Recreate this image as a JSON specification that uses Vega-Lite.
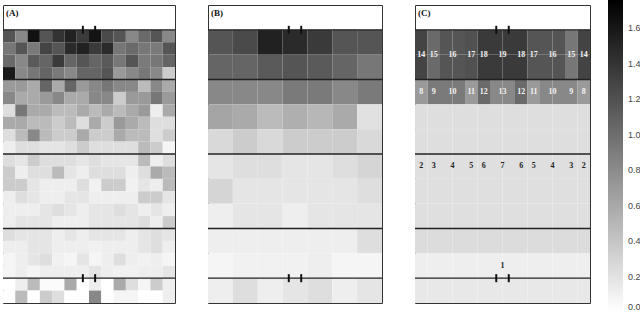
{
 "$schema": "https://vega.github.io/schema/vega-lite/v6.json",
 "padding": {"left": 1, "top": 0, "right": 0, "bottom": 0},
 "background": "white",
 "config": {"view": {"stroke": "#333333", "strokeWidth": 1}},
 "spacing": 29,
 "resolve": {"scale": {"color": "shared"}},
 "datasets": {
  "A": [
   {"r":0,"c":0,"v":1.17},{"r":0,"c":1,"v":0.82},{"r":0,"c":2,"v":1.64},{"r":0,"c":3,"v":1.17},{"r":0,"c":4,"v":1.41},{"r":0,"c":5,"v":1.53},{"r":0,"c":6,"v":1.36},{"r":0,"c":7,"v":1.62},{"r":0,"c":8,"v":1.25},{"r":0,"c":9,"v":1.17},{"r":0,"c":10,"v":0.82},{"r":0,"c":11,"v":1.03},{"r":0,"c":12,"v":1.17},{"r":0,"c":13,"v":0.82},
   {"r":1,"c":0,"v":0.94},{"r":1,"c":1,"v":1.17},{"r":1,"c":2,"v":0.92},{"r":1,"c":3,"v":1.29},{"r":1,"c":4,"v":1.17},{"r":1,"c":5,"v":1.47},{"r":1,"c":6,"v":1.53},{"r":1,"c":7,"v":1.36},{"r":1,"c":8,"v":1.47},{"r":1,"c":9,"v":0.94},{"r":1,"c":10,"v":1.03},{"r":1,"c":11,"v":0.94},{"r":1,"c":12,"v":0.92},{"r":1,"c":13,"v":1.17},
   {"r":2,"c":0,"v":1.03},{"r":2,"c":1,"v":0.82},{"r":2,"c":2,"v":1.14},{"r":2,"c":3,"v":1.06},{"r":2,"c":4,"v":1.36},{"r":2,"c":5,"v":1.06},{"r":2,"c":6,"v":1.17},{"r":2,"c":7,"v":1.06},{"r":2,"c":8,"v":1.14},{"r":2,"c":9,"v":0.94},{"r":2,"c":10,"v":1.17},{"r":2,"c":11,"v":0.92},{"r":2,"c":12,"v":0.94},{"r":2,"c":13,"v":1.06},
   {"r":3,"c":0,"v":1.58},{"r":3,"c":1,"v":0.82},{"r":3,"c":2,"v":0.94},{"r":3,"c":3,"v":1.06},{"r":3,"c":4,"v":0.92},{"r":3,"c":5,"v":0.82},{"r":3,"c":6,"v":1.06},{"r":3,"c":7,"v":1.06},{"r":3,"c":8,"v":1.17},{"r":3,"c":9,"v":0.70},{"r":3,"c":10,"v":0.82},{"r":3,"c":11,"v":0.94},{"r":3,"c":12,"v":0.82},{"r":3,"c":13,"v":0.35},
   {"r":4,"c":0,"v":0.70},{"r":4,"c":1,"v":0.70},{"r":4,"c":2,"v":0.59},{"r":4,"c":3,"v":1.06},{"r":4,"c":4,"v":0.59},{"r":4,"c":5,"v":1.06},{"r":4,"c":6,"v":0.70},{"r":4,"c":7,"v":0.82},{"r":4,"c":8,"v":0.94},{"r":4,"c":9,"v":0.82},{"r":4,"c":10,"v":0.82},{"r":4,"c":11,"v":0.47},{"r":4,"c":12,"v":0.82},{"r":4,"c":13,"v":0.59},
   {"r":5,"c":0,"v":0.82},{"r":5,"c":1,"v":0.59},{"r":5,"c":2,"v":0.59},{"r":5,"c":3,"v":0.70},{"r":5,"c":4,"v":0.82},{"r":5,"c":5,"v":0.59},{"r":5,"c":6,"v":0.59},{"r":5,"c":7,"v":0.82},{"r":5,"c":8,"v":0.82},{"r":5,"c":9,"v":0.35},{"r":5,"c":10,"v":0.70},{"r":5,"c":11,"v":0.70},{"r":5,"c":12,"v":0.94},{"r":5,"c":13,"v":0.70},
   {"r":6,"c":0,"v":0.23},{"r":6,"c":1,"v":0.94},{"r":6,"c":2,"v":0.59},{"r":6,"c":3,"v":0.59},{"r":6,"c":4,"v":0.47},{"r":6,"c":5,"v":0.47},{"r":6,"c":6,"v":0.59},{"r":6,"c":7,"v":0.47},{"r":6,"c":8,"v":0.59},{"r":6,"c":9,"v":0.47},{"r":6,"c":10,"v":0.59},{"r":6,"c":11,"v":0.70},{"r":6,"c":12,"v":0.12},{"r":6,"c":13,"v":0.59},
   {"r":7,"c":0,"v":0.59},{"r":7,"c":1,"v":0.59},{"r":7,"c":2,"v":0.47},{"r":7,"c":3,"v":0.47},{"r":7,"c":4,"v":0.35},{"r":7,"c":5,"v":0.47},{"r":7,"c":6,"v":0.23},{"r":7,"c":7,"v":0.59},{"r":7,"c":8,"v":0.35},{"r":7,"c":9,"v":0.70},{"r":7,"c":10,"v":0.59},{"r":7,"c":11,"v":0.47},{"r":7,"c":12,"v":0.23},{"r":7,"c":13,"v":0.23},
   {"r":8,"c":0,"v":0.23},{"r":8,"c":1,"v":0.47},{"r":8,"c":2,"v":0.82},{"r":8,"c":3,"v":0.47},{"r":8,"c":4,"v":0.35},{"r":8,"c":5,"v":0.35},{"r":8,"c":6,"v":0.59},{"r":8,"c":7,"v":0.35},{"r":8,"c":8,"v":0.35},{"r":8,"c":9,"v":0.59},{"r":8,"c":10,"v":0.47},{"r":8,"c":11,"v":0.47},{"r":8,"c":12,"v":0.23},{"r":8,"c":13,"v":0.35},
   {"r":9,"c":0,"v":0.12},{"r":9,"c":1,"v":0.23},{"r":9,"c":2,"v":0.23},{"r":9,"c":3,"v":0.18},{"r":9,"c":4,"v":0.18},{"r":9,"c":5,"v":0.23},{"r":9,"c":6,"v":0.35},{"r":9,"c":7,"v":0.23},{"r":9,"c":8,"v":0.23},{"r":9,"c":9,"v":0.23},{"r":9,"c":10,"v":0.23},{"r":9,"c":11,"v":0.47},{"r":9,"c":12,"v":0.35},{"r":9,"c":13,"v":0.07},
   {"r":10,"c":0,"v":0.23},{"r":10,"c":1,"v":0.18},{"r":10,"c":2,"v":0.35},{"r":10,"c":3,"v":0.23},{"r":10,"c":4,"v":0.23},{"r":10,"c":5,"v":0.23},{"r":10,"c":6,"v":0.18},{"r":10,"c":7,"v":0.23},{"r":10,"c":8,"v":0.18},{"r":10,"c":9,"v":0.18},{"r":10,"c":10,"v":0.18},{"r":10,"c":11,"v":0.47},{"r":10,"c":12,"v":0.12},{"r":10,"c":13,"v":0.23},
   {"r":11,"c":0,"v":0.35},{"r":11,"c":1,"v":0.12},{"r":11,"c":2,"v":0.23},{"r":11,"c":3,"v":0.23},{"r":11,"c":4,"v":0.47},{"r":11,"c":5,"v":0.18},{"r":11,"c":6,"v":0.12},{"r":11,"c":7,"v":0.23},{"r":11,"c":8,"v":0.23},{"r":11,"c":9,"v":0.23},{"r":11,"c":10,"v":0.12},{"r":11,"c":11,"v":0.23},{"r":11,"c":12,"v":0.59},{"r":11,"c":13,"v":0.47},
   {"r":12,"c":0,"v":0.35},{"r":12,"c":1,"v":0.35},{"r":12,"c":2,"v":0.18},{"r":12,"c":3,"v":0.12},{"r":12,"c":4,"v":0.12},{"r":12,"c":5,"v":0.12},{"r":12,"c":6,"v":0.23},{"r":12,"c":7,"v":0.10},{"r":12,"c":8,"v":0.35},{"r":12,"c":9,"v":0.35},{"r":12,"c":10,"v":0.10},{"r":12,"c":11,"v":0.18},{"r":12,"c":12,"v":0.12},{"r":12,"c":13,"v":0.47},
   {"r":13,"c":0,"v":0.12},{"r":13,"c":1,"v":0.23},{"r":13,"c":2,"v":0.18},{"r":13,"c":3,"v":0.12},{"r":13,"c":4,"v":0.12},{"r":13,"c":5,"v":0.18},{"r":13,"c":6,"v":0.18},{"r":13,"c":7,"v":0.12},{"r":13,"c":8,"v":0.12},{"r":13,"c":9,"v":0.12},{"r":13,"c":10,"v":0.12},{"r":13,"c":11,"v":0.35},{"r":13,"c":12,"v":0.35},{"r":13,"c":13,"v":0.18},
   {"r":14,"c":0,"v":0.12},{"r":14,"c":1,"v":0.12},{"r":14,"c":2,"v":0.12},{"r":14,"c":3,"v":0.18},{"r":14,"c":4,"v":0.23},{"r":14,"c":5,"v":0.18},{"r":14,"c":6,"v":0.12},{"r":14,"c":7,"v":0.18},{"r":14,"c":8,"v":0.18},{"r":14,"c":9,"v":0.23},{"r":14,"c":10,"v":0.18},{"r":14,"c":11,"v":0.12},{"r":14,"c":12,"v":0.18},{"r":14,"c":13,"v":0.12},
   {"r":15,"c":0,"v":0.12},{"r":15,"c":1,"v":0.18},{"r":15,"c":2,"v":0.18},{"r":15,"c":3,"v":0.18},{"r":15,"c":4,"v":0.12},{"r":15,"c":5,"v":0.12},{"r":15,"c":6,"v":0.12},{"r":15,"c":7,"v":0.18},{"r":15,"c":8,"v":0.18},{"r":15,"c":9,"v":0.18},{"r":15,"c":10,"v":0.18},{"r":15,"c":11,"v":0.23},{"r":15,"c":12,"v":0.12},{"r":15,"c":13,"v":0.35},
   {"r":16,"c":0,"v":0.23},{"r":16,"c":1,"v":0.18},{"r":16,"c":2,"v":0.18},{"r":16,"c":3,"v":0.18},{"r":16,"c":4,"v":0.12},{"r":16,"c":5,"v":0.18},{"r":16,"c":6,"v":0.12},{"r":16,"c":7,"v":0.18},{"r":16,"c":8,"v":0.18},{"r":16,"c":9,"v":0.18},{"r":16,"c":10,"v":0.12},{"r":16,"c":11,"v":0.18},{"r":16,"c":12,"v":0.23},{"r":16,"c":13,"v":0.18},
   {"r":17,"c":0,"v":0.12},{"r":17,"c":1,"v":0.12},{"r":17,"c":2,"v":0.18},{"r":17,"c":3,"v":0.18},{"r":17,"c":4,"v":0.12},{"r":17,"c":5,"v":0.12},{"r":17,"c":6,"v":0.12},{"r":17,"c":7,"v":0.10},{"r":17,"c":8,"v":0.12},{"r":17,"c":9,"v":0.12},{"r":17,"c":10,"v":0.12},{"r":17,"c":11,"v":0.18},{"r":17,"c":12,"v":0.23},{"r":17,"c":13,"v":0.12},
   {"r":18,"c":0,"v":0.07},{"r":18,"c":1,"v":0.12},{"r":18,"c":2,"v":0.18},{"r":18,"c":3,"v":0.23},{"r":18,"c":4,"v":0.10},{"r":18,"c":5,"v":0.07},{"r":18,"c":6,"v":0.18},{"r":18,"c":7,"v":0.07},{"r":18,"c":8,"v":0.12},{"r":18,"c":9,"v":0.23},{"r":18,"c":10,"v":0.12},{"r":18,"c":11,"v":0.10},{"r":18,"c":12,"v":0.12},{"r":18,"c":13,"v":0.07},
   {"r":19,"c":0,"v":0.07},{"r":19,"c":1,"v":0.12},{"r":19,"c":2,"v":0.07},{"r":19,"c":3,"v":0.12},{"r":19,"c":4,"v":0.12},{"r":19,"c":5,"v":0.12},{"r":19,"c":6,"v":0.12},{"r":19,"c":7,"v":0.18},{"r":19,"c":8,"v":0.12},{"r":19,"c":9,"v":0.10},{"r":19,"c":10,"v":0.10},{"r":19,"c":11,"v":0.12},{"r":19,"c":12,"v":0.12},{"r":19,"c":13,"v":0.18},
   {"r":20,"c":0,"v":0.0},{"r":20,"c":1,"v":0.12},{"r":20,"c":2,"v":0.47},{"r":20,"c":3,"v":0.03},{"r":20,"c":4,"v":0.03},{"r":20,"c":5,"v":0.59},{"r":20,"c":6,"v":0.0},{"r":20,"c":7,"v":0.12},{"r":20,"c":8,"v":0.0},{"r":20,"c":9,"v":0.59},{"r":20,"c":10,"v":0.23},{"r":20,"c":11,"v":0.07},{"r":20,"c":12,"v":0.35},{"r":20,"c":13,"v":0.12},
   {"r":21,"c":0,"v":0.0},{"r":21,"c":1,"v":0.47},{"r":21,"c":2,"v":0.0},{"r":21,"c":3,"v":0.35},{"r":21,"c":4,"v":0.23},{"r":21,"c":5,"v":0.0},{"r":21,"c":6,"v":0.0},{"r":21,"c":7,"v":0.82},{"r":21,"c":8,"v":0.0},{"r":21,"c":9,"v":0.07},{"r":21,"c":10,"v":0.07},{"r":21,"c":11,"v":0.0},{"r":21,"c":12,"v":0.0},{"r":21,"c":13,"v":0.12}
  ],
  "B": [
   {"r":0,"c":0,"v":1.17},{"r":0,"c":1,"v":1.25},{"r":0,"c":2,"v":1.53},{"r":0,"c":3,"v":1.47},{"r":0,"c":4,"v":1.36},{"r":0,"c":5,"v":1.17},{"r":0,"c":6,"v":1.17},
   {"r":1,"c":0,"v":1.06},{"r":1,"c":1,"v":1.06},{"r":1,"c":2,"v":1.14},{"r":1,"c":3,"v":1.17},{"r":1,"c":4,"v":1.14},{"r":1,"c":5,"v":1.06},{"r":1,"c":6,"v":0.94},
   {"r":2,"c":0,"v":0.82},{"r":2,"c":1,"v":0.82},{"r":2,"c":2,"v":0.82},{"r":2,"c":3,"v":0.92},{"r":2,"c":4,"v":0.92},{"r":2,"c":5,"v":0.82},{"r":2,"c":6,"v":0.92},
   {"r":3,"c":0,"v":0.62},{"r":3,"c":1,"v":0.59},{"r":3,"c":2,"v":0.47},{"r":3,"c":3,"v":0.55},{"r":3,"c":4,"v":0.5},{"r":3,"c":5,"v":0.59},{"r":3,"c":6,"v":0.21},
   {"r":4,"c":0,"v":0.26},{"r":4,"c":1,"v":0.35},{"r":4,"c":2,"v":0.26},{"r":4,"c":3,"v":0.35},{"r":4,"c":4,"v":0.35},{"r":4,"c":5,"v":0.35},{"r":4,"c":6,"v":0.26},
   {"r":5,"c":0,"v":0.18},{"r":5,"c":1,"v":0.23},{"r":5,"c":2,"v":0.23},{"r":5,"c":3,"v":0.18},{"r":5,"c":4,"v":0.18},{"r":5,"c":5,"v":0.23},{"r":5,"c":6,"v":0.29},
   {"r":6,"c":0,"v":0.29},{"r":6,"c":1,"v":0.18},{"r":6,"c":2,"v":0.18},{"r":6,"c":3,"v":0.18},{"r":6,"c":4,"v":0.18},{"r":6,"c":5,"v":0.18},{"r":6,"c":6,"v":0.23},
   {"r":7,"c":0,"v":0.12},{"r":7,"c":1,"v":0.18},{"r":7,"c":2,"v":0.18},{"r":7,"c":3,"v":0.12},{"r":7,"c":4,"v":0.18},{"r":7,"c":5,"v":0.18},{"r":7,"c":6,"v":0.18},
   {"r":8,"c":0,"v":0.12},{"r":8,"c":1,"v":0.12},{"r":8,"c":2,"v":0.12},{"r":8,"c":3,"v":0.12},{"r":8,"c":4,"v":0.12},{"r":8,"c":5,"v":0.12},{"r":8,"c":6,"v":0.23},
   {"r":9,"c":0,"v":0.07},{"r":9,"c":1,"v":0.10},{"r":9,"c":2,"v":0.10},{"r":9,"c":3,"v":0.10},{"r":9,"c":4,"v":0.12},{"r":9,"c":5,"v":0.07},{"r":9,"c":6,"v":0.07},
   {"r":10,"c":0,"v":0.12},{"r":10,"c":1,"v":0.23},{"r":10,"c":2,"v":0.12},{"r":10,"c":3,"v":0.18},{"r":10,"c":4,"v":0.23},{"r":10,"c":5,"v":0.12},{"r":10,"c":6,"v":0.18}
  ],
  "C": [
   {"r":0,"c":0,"v":1.29},{"r":0,"c":1,"v":1.03},{"r":0,"c":2,"v":1.17},{"r":0,"c":3,"v":1.17},{"r":0,"c":4,"v":1.2},{"r":0,"c":5,"v":1.36},{"r":0,"c":6,"v":1.36},{"r":0,"c":7,"v":1.36},{"r":0,"c":8,"v":1.36},{"r":0,"c":9,"v":1.17},{"r":0,"c":10,"v":1.17},{"r":0,"c":11,"v":1.17},{"r":0,"c":12,"v":0.94},{"r":0,"c":13,"v":1.29},
   {"r":1,"c":0,"v":1.29},{"r":1,"c":1,"v":1.03},{"r":1,"c":2,"v":1.17},{"r":1,"c":3,"v":1.17},{"r":1,"c":4,"v":1.2},{"r":1,"c":5,"v":1.36},{"r":1,"c":6,"v":1.36},{"r":1,"c":7,"v":1.36},{"r":1,"c":8,"v":1.36},{"r":1,"c":9,"v":1.17},{"r":1,"c":10,"v":1.17},{"r":1,"c":11,"v":1.17},{"r":1,"c":12,"v":0.94},{"r":1,"c":13,"v":1.29},
   {"r":2,"c":0,"v":0.70},{"r":2,"c":1,"v":0.92},{"r":2,"c":2,"v":0.92},{"r":2,"c":3,"v":0.92},{"r":2,"c":4,"v":0.70},{"r":2,"c":5,"v":1.03},{"r":2,"c":6,"v":0.82},{"r":2,"c":7,"v":0.82},{"r":2,"c":8,"v":1.03},{"r":2,"c":9,"v":0.70},{"r":2,"c":10,"v":0.82},{"r":2,"c":11,"v":0.82},{"r":2,"c":12,"v":0.82},{"r":2,"c":13,"v":0.70},
   {"r":3,"c":0,"v":0.23},{"r":3,"c":1,"v":0.23},{"r":3,"c":2,"v":0.23},{"r":3,"c":3,"v":0.23},{"r":3,"c":4,"v":0.23},{"r":3,"c":5,"v":0.23},{"r":3,"c":6,"v":0.23},{"r":3,"c":7,"v":0.23},{"r":3,"c":8,"v":0.23},{"r":3,"c":9,"v":0.23},{"r":3,"c":10,"v":0.23},{"r":3,"c":11,"v":0.23},{"r":3,"c":12,"v":0.23},{"r":3,"c":13,"v":0.23},
   {"r":4,"c":0,"v":0.23},{"r":4,"c":1,"v":0.23},{"r":4,"c":2,"v":0.23},{"r":4,"c":3,"v":0.23},{"r":4,"c":4,"v":0.23},{"r":4,"c":5,"v":0.23},{"r":4,"c":6,"v":0.23},{"r":4,"c":7,"v":0.23},{"r":4,"c":8,"v":0.23},{"r":4,"c":9,"v":0.23},{"r":4,"c":10,"v":0.23},{"r":4,"c":11,"v":0.23},{"r":4,"c":12,"v":0.23},{"r":4,"c":13,"v":0.23},
   {"r":5,"c":0,"v":0.22},{"r":5,"c":1,"v":0.22},{"r":5,"c":2,"v":0.22},{"r":5,"c":3,"v":0.22},{"r":5,"c":4,"v":0.22},{"r":5,"c":5,"v":0.22},{"r":5,"c":6,"v":0.22},{"r":5,"c":7,"v":0.22},{"r":5,"c":8,"v":0.22},{"r":5,"c":9,"v":0.22},{"r":5,"c":10,"v":0.22},{"r":5,"c":11,"v":0.22},{"r":5,"c":12,"v":0.22},{"r":5,"c":13,"v":0.22},
   {"r":6,"c":0,"v":0.22},{"r":6,"c":1,"v":0.22},{"r":6,"c":2,"v":0.22},{"r":6,"c":3,"v":0.22},{"r":6,"c":4,"v":0.22},{"r":6,"c":5,"v":0.22},{"r":6,"c":6,"v":0.22},{"r":6,"c":7,"v":0.22},{"r":6,"c":8,"v":0.22},{"r":6,"c":9,"v":0.22},{"r":6,"c":10,"v":0.22},{"r":6,"c":11,"v":0.22},{"r":6,"c":12,"v":0.22},{"r":6,"c":13,"v":0.22},
   {"r":7,"c":0,"v":0.22},{"r":7,"c":1,"v":0.22},{"r":7,"c":2,"v":0.22},{"r":7,"c":3,"v":0.22},{"r":7,"c":4,"v":0.22},{"r":7,"c":5,"v":0.22},{"r":7,"c":6,"v":0.22},{"r":7,"c":7,"v":0.22},{"r":7,"c":8,"v":0.22},{"r":7,"c":9,"v":0.22},{"r":7,"c":10,"v":0.22},{"r":7,"c":11,"v":0.22},{"r":7,"c":12,"v":0.22},{"r":7,"c":13,"v":0.22},
   {"r":8,"c":0,"v":0.24},{"r":8,"c":1,"v":0.24},{"r":8,"c":2,"v":0.24},{"r":8,"c":3,"v":0.24},{"r":8,"c":4,"v":0.24},{"r":8,"c":5,"v":0.24},{"r":8,"c":6,"v":0.24},{"r":8,"c":7,"v":0.24},{"r":8,"c":8,"v":0.24},{"r":8,"c":9,"v":0.24},{"r":8,"c":10,"v":0.24},{"r":8,"c":11,"v":0.24},{"r":8,"c":12,"v":0.24},{"r":8,"c":13,"v":0.24},
   {"r":9,"c":0,"v":0.12},{"r":9,"c":1,"v":0.12},{"r":9,"c":2,"v":0.12},{"r":9,"c":3,"v":0.12},{"r":9,"c":4,"v":0.12},{"r":9,"c":5,"v":0.12},{"r":9,"c":6,"v":0.12},{"r":9,"c":7,"v":0.12},{"r":9,"c":8,"v":0.12},{"r":9,"c":9,"v":0.12},{"r":9,"c":10,"v":0.12},{"r":9,"c":11,"v":0.12},{"r":9,"c":12,"v":0.12},{"r":9,"c":13,"v":0.12},
   {"r":10,"c":0,"v":0.16},{"r":10,"c":1,"v":0.16},{"r":10,"c":2,"v":0.16},{"r":10,"c":3,"v":0.16},{"r":10,"c":4,"v":0.16},{"r":10,"c":5,"v":0.16},{"r":10,"c":6,"v":0.16},{"r":10,"c":7,"v":0.16},{"r":10,"c":8,"v":0.16},{"r":10,"c":9,"v":0.16},{"r":10,"c":10,"v":0.16},{"r":10,"c":11,"v":0.16},{"r":10,"c":12,"v":0.16},{"r":10,"c":13,"v":0.16}
  ],
  "Clab": [
   {"t":"14","c":0,"r":0,"w":1},{"t":"15","c":1,"r":0,"w":1},{"t":"16","c":2,"r":0,"w":2},{"t":"17","c":4,"r":0,"w":1},{"t":"18","c":5,"r":0,"w":1},{"t":"19","c":6,"r":0,"w":2},{"t":"18","c":8,"r":0,"w":1},{"t":"17","c":9,"r":0,"w":1},{"t":"16","c":10,"r":0,"w":2},{"t":"15","c":12,"r":0,"w":1},{"t":"14","c":13,"r":0,"w":1},
   {"t":"8","c":0,"r":2,"w":1},{"t":"9","c":1,"r":2,"w":1},{"t":"10","c":2,"r":2,"w":2},{"t":"11","c":4,"r":2,"w":1},{"t":"12","c":5,"r":2,"w":1},{"t":"13","c":6,"r":2,"w":2},{"t":"12","c":8,"r":2,"w":1},{"t":"11","c":9,"r":2,"w":1},{"t":"10","c":10,"r":2,"w":2},{"t":"9","c":12,"r":2,"w":1},{"t":"8","c":13,"r":2,"w":1},
   {"t":"2","c":0,"r":5,"w":1},{"t":"3","c":1,"r":5,"w":1},{"t":"4","c":2,"r":5,"w":2},{"t":"5","c":4,"r":5,"w":1},{"t":"6","c":5,"r":5,"w":1},{"t":"7","c":6,"r":5,"w":2},{"t":"6","c":8,"r":5,"w":1},{"t":"5","c":9,"r":5,"w":1},{"t":"4","c":10,"r":5,"w":2},{"t":"3","c":12,"r":5,"w":1},{"t":"2","c":13,"r":5,"w":1},
   {"t":"1","c":6,"r":9,"w":2}
  ]
 },
 "hconcat": [
  {
   "width": 172, "height": 298,
   "layer": [
    {"data": {"name": "A"}, "mark": {"type": "rect"},
     "encoding": {
      "x": {"field": "c", "type": "ordinal", "axis": null, "scale": {"type": "band", "domain": [0,1,2,3,4,5,6,7,8,9,10,11,12,13], "paddingInner": 0, "paddingOuter": 0}},
      "y": {"field": "r", "type": "ordinal", "axis": null, "scale": {"type": "band", "domain": [-2,-1,0,1,2,3,4,5,6,7,8,9,10,11,12,13,14,15,16,17,18,19,20,21], "paddingInner": 0, "paddingOuter": 0}},
      "color": {"field": "v", "type": "quantitative", "scale": {"domain": [0, 1.76], "range": ["#ffffff", "#000000"], "interpolate": "rgb", "nice": false},
       "legend": {"orient": "none", "legendX": 605, "legendY": -5, "direction": "vertical", "gradientLength": 312, "gradientThickness": 15, "gradientStrokeWidth": 0, "title": null, "format": ".1f", "values": [0, 0.2, 0.4, 0.6, 0.8, 1.0, 1.2, 1.4, 1.6], "labelFont": "Liberation Sans", "labelFontSize": 9, "labelColor": "#444444", "labelOffset": 5, "labelBaseline": "middle", "labelOverlap": false}}
     }},
    {"data": {"values": [{"r": 0}, {"r": 4}, {"r": 10}, {"r": 16}, {"r": 20}]}, "mark": {"type": "rule", "color": "#222222", "strokeWidth": 1.3},
     "encoding": {"y": {"field": "r", "type": "ordinal", "axis": null, "bandPosition": 0, "scale": {"type": "band", "domain": [-2,-1,0,1,2,3,4,5,6,7,8,9,10,11,12,13,14,15,16,17,18,19,20,21], "paddingInner": 0, "paddingOuter": 0}}}},
    {"data": {"values": [{"c": 6, "r": 0}, {"c": 7, "r": 0}, {"c": 6, "r": 20}, {"c": 7, "r": 20}]}, "mark": {"type": "point", "shape": "M0,-1L0,1", "size": 64, "filled": false, "stroke": "#111111", "strokeWidth": 2, "opacity": 1},
     "encoding": {
      "x": {"field": "c", "type": "ordinal", "axis": null, "bandPosition": 0.5, "scale": {"type": "band", "domain": [0,1,2,3,4,5,6,7,8,9,10,11,12,13], "paddingInner": 0, "paddingOuter": 0}},
      "y": {"field": "r", "type": "ordinal", "axis": null, "bandPosition": 0, "scale": {"type": "band", "domain": [-2,-1,0,1,2,3,4,5,6,7,8,9,10,11,12,13,14,15,16,17,18,19,20,21], "paddingInner": 0, "paddingOuter": 0}}}},
    {"data": {"values": [{"t": "(A)", "c": 0, "r": -2}]}, "mark": {"type": "text", "align": "left", "baseline": "middle", "dx": 3, "font": "Liberation Serif", "fontWeight": "bold", "fontSize": 9, "color": "#111111"},
     "encoding": {
      "x": {"field": "c", "type": "ordinal", "axis": null, "bandPosition": 0, "scale": {"type": "band", "domain": [0,1,2,3,4,5,6,7,8,9,10,11,12,13], "paddingInner": 0, "paddingOuter": 0}},
      "y": {"field": "r", "type": "ordinal", "axis": null, "bandPosition": 0.65, "scale": {"type": "band", "domain": [-2,-1,0,1,2,3,4,5,6,7,8,9,10,11,12,13,14,15,16,17,18,19,20,21], "paddingInner": 0, "paddingOuter": 0}},
      "text": {"field": "t"}}}
   ]
  },
  {
   "width": 174, "height": 298,
   "layer": [
    {"data": {"name": "B"}, "mark": {"type": "rect"},
     "encoding": {
      "x": {"field": "c", "type": "ordinal", "axis": null, "scale": {"type": "band", "domain": [0,1,2,3,4,5,6], "paddingInner": 0, "paddingOuter": 0}},
      "y": {"field": "r", "type": "ordinal", "axis": null, "scale": {"type": "band", "domain": [-1,0,1,2,3,4,5,6,7,8,9,10], "paddingInner": 0, "paddingOuter": 0}},
      "color": {"field": "v", "type": "quantitative", "scale": {"domain": [0, 1.76], "range": ["#ffffff", "#000000"], "interpolate": "rgb", "nice": false},
       "legend": {"orient": "none", "legendX": 605, "legendY": -5, "direction": "vertical", "gradientLength": 312, "gradientThickness": 15, "gradientStrokeWidth": 0, "title": null, "format": ".1f", "values": [0, 0.2, 0.4, 0.6, 0.8, 1.0, 1.2, 1.4, 1.6], "labelFont": "Liberation Sans", "labelFontSize": 9, "labelColor": "#444444", "labelOffset": 5, "labelBaseline": "middle", "labelOverlap": false}}
     }},
    {"data": {"values": [{"r": 0}, {"r": 2}, {"r": 5}, {"r": 8}, {"r": 10}]}, "mark": {"type": "rule", "color": "#222222", "strokeWidth": 1.3},
     "encoding": {"y": {"field": "r", "type": "ordinal", "axis": null, "bandPosition": 0, "scale": {"type": "band", "domain": [-1,0,1,2,3,4,5,6,7,8,9,10], "paddingInner": 0, "paddingOuter": 0}}}},
    {"data": {"values": [{"c": 3, "r": 0}, {"c": 3, "r": 10}]}, "mark": {"type": "point", "shape": "M0,-1L0,1", "size": 64, "filled": false, "stroke": "#111111", "strokeWidth": 2, "opacity": 1},
     "encoding": {
      "x": {"field": "c", "type": "ordinal", "axis": null, "bandPosition": 0.25, "scale": {"type": "band", "domain": [0,1,2,3,4,5,6], "paddingInner": 0, "paddingOuter": 0}},
      "y": {"field": "r", "type": "ordinal", "axis": null, "bandPosition": 0, "scale": {"type": "band", "domain": [-1,0,1,2,3,4,5,6,7,8,9,10], "paddingInner": 0, "paddingOuter": 0}}}},
    {"data": {"values": [{"c": 3, "r": 0}, {"c": 3, "r": 10}]}, "mark": {"type": "point", "shape": "M0,-1L0,1", "size": 64, "filled": false, "stroke": "#111111", "strokeWidth": 2, "opacity": 1},
     "encoding": {
      "x": {"field": "c", "type": "ordinal", "axis": null, "bandPosition": 0.75, "scale": {"type": "band", "domain": [0,1,2,3,4,5,6], "paddingInner": 0, "paddingOuter": 0}},
      "y": {"field": "r", "type": "ordinal", "axis": null, "bandPosition": 0, "scale": {"type": "band", "domain": [-1,0,1,2,3,4,5,6,7,8,9,10], "paddingInner": 0, "paddingOuter": 0}}}},
    {"data": {"values": [{"t": "(B)", "c": 0, "r": -1}]}, "mark": {"type": "text", "align": "left", "baseline": "middle", "dx": 3, "font": "Liberation Serif", "fontWeight": "bold", "fontSize": 9, "color": "#111111"},
     "encoding": {
      "x": {"field": "c", "type": "ordinal", "axis": null, "bandPosition": 0, "scale": {"type": "band", "domain": [0,1,2,3,4,5,6], "paddingInner": 0, "paddingOuter": 0}},
      "y": {"field": "r", "type": "ordinal", "axis": null, "bandPosition": 0.33, "scale": {"type": "band", "domain": [-1,0,1,2,3,4,5,6,7,8,9,10], "paddingInner": 0, "paddingOuter": 0}},
      "text": {"field": "t"}}}
   ]
  },
  {
   "width": 175, "height": 298,
   "layer": [
    {"data": {"name": "C"}, "mark": {"type": "rect"},
     "encoding": {
      "x": {"field": "c", "type": "ordinal", "axis": null, "scale": {"type": "band", "domain": [0,1,2,3,4,5,6,7,8,9,10,11,12,13], "paddingInner": 0, "paddingOuter": 0}},
      "y": {"field": "r", "type": "ordinal", "axis": null, "scale": {"type": "band", "domain": [-1,0,1,2,3,4,5,6,7,8,9,10], "paddingInner": 0, "paddingOuter": 0}},
      "color": {"field": "v", "type": "quantitative", "scale": {"domain": [0, 1.76], "range": ["#ffffff", "#000000"], "interpolate": "rgb", "nice": false},
       "legend": {"orient": "none", "legendX": 605, "legendY": -5, "direction": "vertical", "gradientLength": 312, "gradientThickness": 15, "gradientStrokeWidth": 0, "title": null, "format": ".1f", "values": [0, 0.2, 0.4, 0.6, 0.8, 1.0, 1.2, 1.4, 1.6], "labelFont": "Liberation Sans", "labelFontSize": 9, "labelColor": "#444444", "labelOffset": 5, "labelBaseline": "middle", "labelOverlap": false}}
     }},
    {"data": {"values": [{"r": 0}, {"r": 2}, {"r": 5}, {"r": 8}, {"r": 10}]}, "mark": {"type": "rule", "color": "#222222", "strokeWidth": 1.3},
     "encoding": {"y": {"field": "r", "type": "ordinal", "axis": null, "bandPosition": 0, "scale": {"type": "band", "domain": [-1,0,1,2,3,4,5,6,7,8,9,10], "paddingInner": 0, "paddingOuter": 0}}}},
    {"data": {"values": [{"c": 6, "r": 0}, {"c": 7, "r": 0}, {"c": 6, "r": 10}, {"c": 7, "r": 10}]}, "mark": {"type": "point", "shape": "M0,-1L0,1", "size": 64, "filled": false, "stroke": "#111111", "strokeWidth": 2, "opacity": 1},
     "encoding": {
      "x": {"field": "c", "type": "ordinal", "axis": null, "bandPosition": 0.5, "scale": {"type": "band", "domain": [0,1,2,3,4,5,6,7,8,9,10,11,12,13], "paddingInner": 0, "paddingOuter": 0}},
      "y": {"field": "r", "type": "ordinal", "axis": null, "bandPosition": 0, "scale": {"type": "band", "domain": [-1,0,1,2,3,4,5,6,7,8,9,10], "paddingInner": 0, "paddingOuter": 0}}}},
    {"data": {"name": "Clab"}, "transform": [{"filter": "datum.r == 0 && datum.w == 1"}], "mark": {"type": "text", "align": "center", "baseline": "middle", "font": "Liberation Serif", "fontWeight": "bold", "fontSize": 8, "color": "#f2f2f2"},
     "encoding": {
      "x": {"field": "c", "type": "ordinal", "axis": null, "bandPosition": 0.5, "scale": {"type": "band", "domain": [0,1,2,3,4,5,6,7,8,9,10,11,12,13], "paddingInner": 0, "paddingOuter": 0}},
      "y": {"field": "r", "type": "ordinal", "axis": null, "bandPosition": 1, "scale": {"type": "band", "domain": [-1,0,1,2,3,4,5,6,7,8,9,10], "paddingInner": 0, "paddingOuter": 0}},
      "text": {"field": "t"}}},
    {"data": {"name": "Clab"}, "transform": [{"filter": "datum.r == 0 && datum.w == 2"}], "mark": {"type": "text", "align": "center", "baseline": "middle", "font": "Liberation Serif", "fontWeight": "bold", "fontSize": 8, "color": "#f2f2f2"},
     "encoding": {
      "x": {"field": "c", "type": "ordinal", "axis": null, "bandPosition": 1, "scale": {"type": "band", "domain": [0,1,2,3,4,5,6,7,8,9,10,11,12,13], "paddingInner": 0, "paddingOuter": 0}},
      "y": {"field": "r", "type": "ordinal", "axis": null, "bandPosition": 1, "scale": {"type": "band", "domain": [-1,0,1,2,3,4,5,6,7,8,9,10], "paddingInner": 0, "paddingOuter": 0}},
      "text": {"field": "t"}}},
    {"data": {"name": "Clab"}, "transform": [{"filter": "datum.r > 0 && datum.w == 1"}], "mark": {"type": "text", "align": "center", "baseline": "middle", "font": "Liberation Serif", "fontWeight": "bold", "fontSize": 8},
     "encoding": {
      "x": {"field": "c", "type": "ordinal", "axis": null, "bandPosition": 0.5, "scale": {"type": "band", "domain": [0,1,2,3,4,5,6,7,8,9,10,11,12,13], "paddingInner": 0, "paddingOuter": 0}},
      "y": {"field": "r", "type": "ordinal", "axis": null, "bandPosition": 0.5, "scale": {"type": "band", "domain": [-1,0,1,2,3,4,5,6,7,8,9,10], "paddingInner": 0, "paddingOuter": 0}},
      "color": {"condition": {"test": "datum.r <= 2", "value": "#f2f2f2"}, "value": "#222222"},
      "text": {"field": "t"}}},
    {"data": {"name": "Clab"}, "transform": [{"filter": "datum.r > 0 && datum.w == 2"}], "mark": {"type": "text", "align": "center", "baseline": "middle", "font": "Liberation Serif", "fontWeight": "bold", "fontSize": 8},
     "encoding": {
      "x": {"field": "c", "type": "ordinal", "axis": null, "bandPosition": 1, "scale": {"type": "band", "domain": [0,1,2,3,4,5,6,7,8,9,10,11,12,13], "paddingInner": 0, "paddingOuter": 0}},
      "y": {"field": "r", "type": "ordinal", "axis": null, "bandPosition": 0.5, "scale": {"type": "band", "domain": [-1,0,1,2,3,4,5,6,7,8,9,10], "paddingInner": 0, "paddingOuter": 0}},
      "color": {"condition": {"test": "datum.r <= 2", "value": "#f2f2f2"}, "value": "#222222"},
      "text": {"field": "t"}}},
    {"data": {"values": [{"t": "(C)", "c": 0, "r": -1}]}, "mark": {"type": "text", "align": "left", "baseline": "middle", "dx": 3, "font": "Liberation Serif", "fontWeight": "bold", "fontSize": 9, "color": "#111111"},
     "encoding": {
      "x": {"field": "c", "type": "ordinal", "axis": null, "bandPosition": 0, "scale": {"type": "band", "domain": [0,1,2,3,4,5,6,7,8,9,10,11,12,13], "paddingInner": 0, "paddingOuter": 0}},
      "y": {"field": "r", "type": "ordinal", "axis": null, "bandPosition": 0.33, "scale": {"type": "band", "domain": [-1,0,1,2,3,4,5,6,7,8,9,10], "paddingInner": 0, "paddingOuter": 0}},
      "text": {"field": "t"}}}
   ]
  }
 ]
}
